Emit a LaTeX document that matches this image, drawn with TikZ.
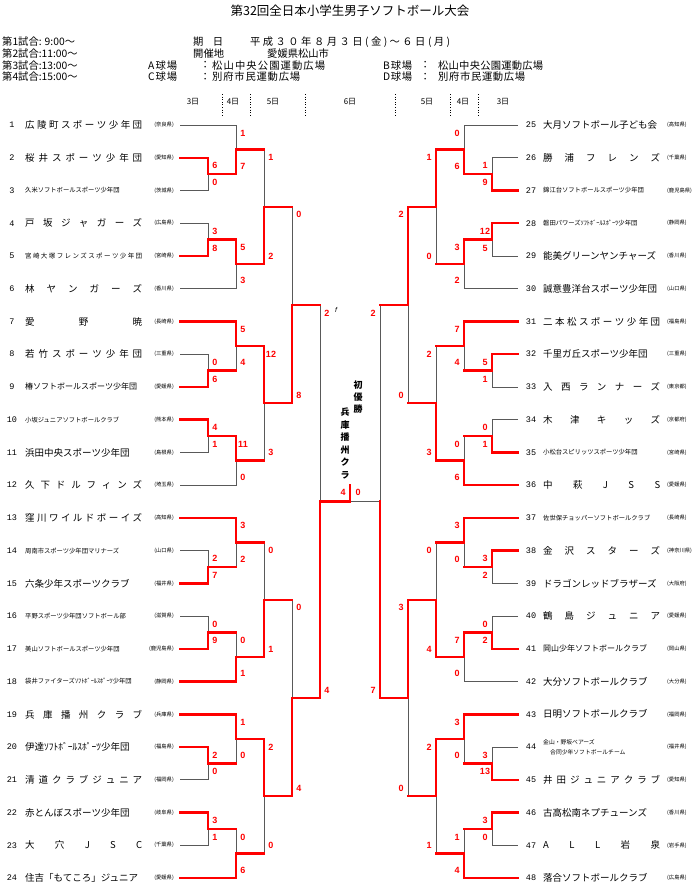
\documentclass[tikz,border=0pt]{standalone}
\usepackage{fontspec}
\usepackage{tikz}
\usetikzlibrary{calc,backgrounds,positioning}
\setmainfont{Noto Sans CJK JP}
\newfontfamily\scfont{Liberation Sans}
\newfontfamily\numfont{Liberation Mono}

\newcommand\spreadto[2]{\makebox[#1][s]{\spreadloop#2\spreadend}}
\def\spreadloop#1#2\spreadend{#1\if\relax\detokenize{#2}\relax\else\hfil\spreadloop#2\spreadend\fi}
\newcommand\nmW[1]{{\fontsize{9.5}{10}\selectfont\spreadto{117pt}{#1}}}
\newcommand\nmN[1]{{\fontsize{9.5}{10}\selectfont #1}}
\newcommand\nmM[1]{{\fontsize{8}{9}\selectfont #1}}
\newcommand\nmS[1]{{\fontsize{6.3}{7}\selectfont #1}}
\newcommand\nmSW[1]{{\fontsize{6.5}{7}\selectfont\spreadto{117pt}{#1}}}
\newcommand\nmD[1]{{\fontsize{5.8}{10}\selectfont\begin{tabular}{@{}l@{}}#1\\\hspace*{7pt}合同少年ソフトボールチーム\end{tabular}}}

\newcommand\bout[8]{%
  \coordinate (#4) at ($(#1 -| #3)!.5!(#2 -| #3)$);
  \begin{pgfonlayer}{background}
    \draw[lose] (#1) -- (#1 -| #3) -- (#2 -| #3) -- (#2);
  \end{pgfonlayer}
  \if#5t\def\bw{#1}\else\def\bw{#2}\fi
  \draw[win] (\bw) -- (\bw -| #3) -- (#4) -- (#4 -| #8);
  \node[sc] (#4-a) at ($(#1 -| #3)+(\sdx,8)$) {#6};
  \node[sc] (#4-b) at ($(#2 -| #3)+(\sdx,-8)$) {#7};
}

\begin{document}
\begin{tikzpicture}[x=1pt,y=-1pt,
    team/.style={anchor=west,inner sep=0pt},
    num/.style={font=\numfont\fontsize{8.5}{9}\selectfont,inner sep=0pt},
    pref/.style={font=\fontsize{5.3}{6}\selectfont,inner sep=0pt},
    sc/.style={font=\scfont\bfseries\fontsize{9}{9}\selectfont,text=red,inner sep=0pt},
    hdr/.style={font=\fontsize{10.3}{11}\selectfont,anchor=west,inner sep=0pt},
    day/.style={font=\fontsize{8}{9}\selectfont,inner sep=0pt},
    lose/.style={draw=black!65,line width=0.7pt},
    win/.style={draw=red,line width=2.4pt,line cap=rect},
    sep/.style={dotted,line width=0.6pt}
  ]
  \useasboundingbox (0,0) rectangle (700,895);

  \node[font=\fontsize{12.5}{14}\selectfont,inner sep=0pt] (title) at (350,11) {第32回全日本小学生男子ソフトボール大会};
  \node[hdr] (time1) at (2,42) {第1試合: 9:00〜};
  \node[hdr] (time2) at (2,53.7) {第2試合:11:00〜};
  \node[hdr] (time3) at (2,65.4) {第3試合:13:00〜};
  \node[hdr] (time4) at (2,77) {第4試合:15:00〜};
  \node[hdr] (datek) at (193,42) {\spreadto{30pt}{期日}};
  \node[hdr] (datev) at (250,42) {\spreadto{200pt}{平成３０年８月３日(金)〜６日(月)}};
  \node[hdr] (sitek) at (193,53.7) {\spreadto{29pt}{開催地}};
  \node[hdr] (sitev) at (267,53.7) {\spreadto{56pt}{愛媛県松山市}};
  \node[hdr] (fa) at (148,65.4) {\spreadto{29pt}{A球場}};
  \node[hdr] (fac) at (200,65.4) {：};
  \node[hdr] (fav) at (212,65.4) {\spreadto{113pt}{松山中央公園運動広場}};
  \node[hdr] (fc) at (148,77) {\spreadto{29pt}{C球場}};
  \node[hdr] (fcc) at (200,77) {：};
  \node[hdr] (fcv) at (212,77) {\spreadto{88pt}{別府市民運動広場}};
  \node[hdr] (fb) at (383,65.4) {\spreadto{29pt}{B球場}};
  \node[hdr] (fbc) at (420,65.4) {：};
  \node[hdr] (fbv) at (438,65.4) {\spreadto{105pt}{松山中央公園運動広場}};
  \node[hdr] (fd) at (383,77) {\spreadto{29pt}{D球場}};
  \node[hdr] (fdc) at (420,77) {：};
  \node[hdr] (fdv) at (438,77) {\spreadto{87pt}{別府市民運動広場}};

  \foreach \xs in {222,250,305,395,450,478}
    \draw[sep] (\xs,94) -- (\xs,116);
  \foreach \xd/\dl [count=\k] in {193/3,233/4,273/5,350/6,427/5,463/4,503/3}
    \node[day] (day\k) at (\xd,102) {\dl 日};

  \foreach \i/\nm/\pf/\md in {1/広陵町スポーツ少年団/奈良県/\nmW, 2/桜井スポーツ少年団/愛知県/\nmW,
      3/久米ソフトボールスポーツ少年団/茨城県/\nmS, 4/戸坂ジャガーズ/広島県/\nmW,
      5/宮崎大塚フレンズスポーツ少年団/宮崎県/\nmSW, 6/林ヤンガーズ/香川県/\nmW,
      7/愛野暁/長崎県/\nmW, 8/若竹スポーツ少年団/三重県/\nmW,
      9/椿ソフトボールスポーツ少年団/愛媛県/\nmM, 10/小坂ジュニアソフトボールクラブ/熊本県/\nmS,
      11/浜田中央スポーツ少年団/島根県/\nmN, 12/久下ドルフィンズ/埼玉県/\nmW,
      13/窪川ワイルドボーイズ/高知県/\nmW, 14/周南市スポーツ少年団マリナーズ/山口県/\nmS,
      15/六条少年スポーツクラブ/福井県/\nmN, 16/平野スポーツ少年団ソフトボール部/滋賀県/\nmS,
      17/美山ソフトボールスポーツ少年団/鹿児島県/\nmS, 18/袋井ファイターズｿﾌﾄﾎﾞｰﾙｽﾎﾟｰﾂ少年団/静岡県/\nmS,
      19/兵庫播州クラブ/兵庫県/\nmW, 20/伊達ｿﾌﾄﾎﾞｰﾙｽﾎﾟｰﾂ少年団/福島県/\nmN,
      21/清道クラブジュニア/福岡県/\nmW, 22/赤とんぼスポーツ少年団/岐阜県/\nmN,
      23/大穴JSC/千葉県/\nmW, 24/住吉「もてころ」ジュニア/愛媛県/\nmN} {
    \pgfmathsetmacro\y{125+(\i-1)*32.74}
    \node[num] (n\i) at (12,\y) {\i};
    \node[team] (tm\i) at (25,\y) {\expandafter\md\expandafter{\nm}};
    \node[pref,anchor=east] (pf\i) at (174,\y) {(\pf)};
    \coordinate (s\i) at (180,\y);
  }
  \foreach \i/\nm/\pf/\md in {25/大月ソフトボール子ども会/高知県/\nmN, 26/勝浦フレンズ/千葉県/\nmW,
      27/錦江台ソフトボールスポーツ少年団/鹿児島県/\nmS, 28/磐田パワーズｿﾌﾄﾎﾞｰﾙｽﾎﾟｰﾂ少年団/静岡県/\nmS,
      29/能美グリーンヤンチャーズ/香川県/\nmN, 30/誠意豊洋台スポーツ少年団/山口県/\nmN,
      31/二本松スポーツ少年団/福島県/\nmW, 32/千里ガ丘スポーツ少年団/三重県/\nmN,
      33/入西ランナーズ/東京都/\nmW, 34/木津キッズ/京都府/\nmW,
      35/小松台スピリッツスポーツ少年団/宮崎県/\nmS, 36/中萩JSS/愛媛県/\nmW,
      37/佐世保チョッパーソフトボールクラブ/長崎県/\nmS, 38/金沢スターズ/神奈川県/\nmW,
      39/ドラゴンレッドブラザーズ/大阪府/\nmN, 40/鶴島ジュニア/愛媛県/\nmW,
      41/岡山少年ソフトボールクラブ/岡山県/\nmM, 42/大分ソフトボールクラブ/大分県/\nmN,
      43/日明ソフトボールクラブ/福岡県/\nmN, 44/金山・野坂ベアーズ/福井県/\nmD,
      45/井田ジュニアクラブ/愛知県/\nmW, 46/古高松南ネプチューンズ/香川県/\nmN,
      47/ALL岩泉/岩手県/\nmW, 48/落合ソフトボールクラブ/広島県/\nmN} {
    \pgfmathsetmacro\y{125+(\i-25)*32.74}
    \node[num] (n\i) at (531,\y) {\i};
    \node[team] (tm\i) at (543,\y) {\expandafter\md\expandafter{\nm}};
    \node[pref,anchor=west] (pf\i) at (667,\y) {(\pf)};
    \coordinate (s\i) at (518,\y);
  }

  \coordinate (c1) at (208,0); \coordinate (c2) at (236,0); \coordinate (c3) at (264,0);
  \coordinate (c4) at (292,0); \coordinate (c5) at (320,0); \coordinate (ctr) at (350,0);
  \coordinate (d1) at (492,0); \coordinate (d2) at (464,0); \coordinate (d3) at (436,0);
  \coordinate (d4) at (408,0); \coordinate (d5) at (380,0);
  \coordinate (champ) at (350,485);

  \def\sdx{7}
  \bout{s2}{s3}{c1}{g1a}{t}{6}{0}{c2}   \bout{s1}{g1a}{c2}{g1}{b}{1}{7}{c3}
  \bout{s4}{s5}{c1}{g2a}{b}{3}{8}{c2}   \bout{g2a}{s6}{c2}{g2}{t}{5}{3}{c3}
  \bout{s8}{s9}{c1}{g3a}{b}{0}{6}{c2}   \bout{s7}{g3a}{c2}{g3}{t}{5}{4}{c3}
  \bout{s10}{s11}{c1}{g4a}{t}{4}{1}{c2} \bout{g4a}{s12}{c2}{g4}{t}{11}{0}{c3}
  \bout{s14}{s15}{c1}{g5a}{b}{2}{7}{c2} \bout{s13}{g5a}{c2}{g5}{t}{3}{2}{c3}
  \bout{s16}{s17}{c1}{g6a}{b}{0}{9}{c2} \bout{g6a}{s18}{c2}{g6}{b}{0}{1}{c3}
  \bout{s20}{s21}{c1}{g7a}{t}{2}{0}{c2} \bout{s19}{g7a}{c2}{g7}{t}{1}{0}{c3}
  \bout{s22}{s23}{c1}{g8a}{t}{3}{1}{c2} \bout{g8a}{s24}{c2}{g8}{b}{0}{6}{c3}
  \bout{g1}{g2}{c3}{q1}{b}{1}{2}{c4}
  \bout{g3}{g4}{c3}{q2}{t}{12}{3}{c4}
  \bout{g5}{g6}{c3}{q3}{b}{0}{1}{c4}
  \bout{g7}{g8}{c3}{q4}{t}{2}{0}{c4}
  \bout{q1}{q2}{c4}{h1}{b}{0}{8}{c5}
  \bout{q3}{q4}{c4}{h2}{b}{0}{4}{c5}
  \bout{h1}{h2}{c5}{sl}{b}{2}{4}{ctr}
  \draw[win] (sl -| ctr) -- (champ);

  \def\sdx{-7}
  \bout{s26}{s27}{d1}{g9a}{b}{1}{9}{d2}    \bout{s25}{g9a}{d2}{g9}{b}{0}{6}{d3}
  \bout{s28}{s29}{d1}{g10a}{t}{12}{5}{d2}  \bout{g10a}{s30}{d2}{g10}{t}{3}{2}{d3}
  \bout{s32}{s33}{d1}{g11a}{t}{5}{1}{d2}   \bout{s31}{g11a}{d2}{g11}{t}{7}{4}{d3}
  \bout{s34}{s35}{d1}{g12a}{b}{0}{1}{d2}   \bout{g12a}{s36}{d2}{g12}{b}{0}{6}{d3}
  \bout{s38}{s39}{d1}{g13a}{t}{3}{2}{d2}   \bout{s37}{g13a}{d2}{g13}{t}{3}{0}{d3}
  \bout{s40}{s41}{d1}{g14a}{b}{0}{2}{d2}   \bout{g14a}{s42}{d2}{g14}{t}{7}{0}{d3}
  \bout{s44}{s45}{d1}{g15a}{b}{3}{13}{d2}  \bout{s43}{g15a}{d2}{g15}{t}{3}{0}{d3}
  \bout{s46}{s47}{d1}{g16a}{t}{3}{0}{d2}   \bout{g16a}{s48}{d2}{g16}{b}{1}{4}{d3}
  \bout{g9}{g10}{d3}{q5}{t}{1}{0}{d4}
  \bout{g11}{g12}{d3}{q6}{b}{2}{3}{d4}
  \bout{g13}{g14}{d3}{q7}{b}{0}{4}{d4}
  \bout{g15}{g16}{d3}{q8}{t}{2}{1}{d4}
  \bout{q5}{q6}{d4}{h3}{t}{2}{0}{d5}
  \bout{q7}{q8}{d4}{h4}{t}{3}{0}{d5}
  \coordinate (sr) at ($(h3 -| d5)!.5!(h4 -| d5)$);
  \begin{pgfonlayer}{background}
    \draw[lose] (h3) -- (h3 -| d5) -- (h4 -| d5) -- (h4);
    \draw[lose] (sr) -- (sr -| ctr);
  \end{pgfonlayer}
  \draw[win] (h4) -- (h4 -| d5) -- (sr);
  \node[sc] (sr-a) at ($(h3 -| d5)+(-7,8)$) {2};
  \node[sc] (sr-b) at ($(h4 -| d5)+(-7,-8)$) {7};

  \node[sc] (fin-a) at (343,492) {4};
  \node[sc] (fin-b) at (358,492) {0};
  \node[font=\scfont\itshape\fontsize{7}{7}\selectfont,inner sep=0pt] (fmark) at (336,310) {f};
  \node[font=\bfseries\fontsize{9}{12}\selectfont,align=center,inner sep=0pt] (yusho) at (358,397.5) {初\\優\\勝};
  \node[font=\bfseries\fontsize{9}{12.6}\selectfont,align=center,inner sep=0pt] (champname) at (345,443.5) {兵\\庫\\播\\州\\ク\\ラ};
\end{tikzpicture}
\end{document}
